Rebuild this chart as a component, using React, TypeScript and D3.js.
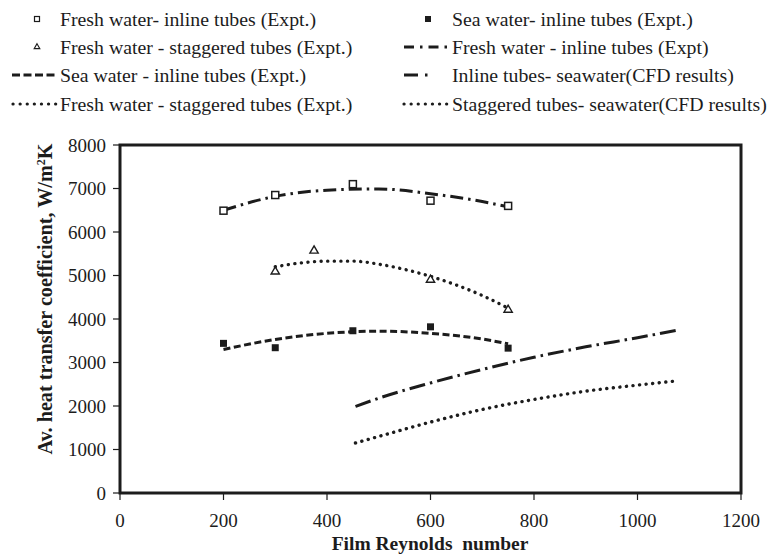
import * as d3 from "d3";

// experimental points
const freshInlineRe = [200, 300, 450, 600, 750];
const freshInlineH = [6490, 6850, 7100, 6720, 6600];
const seaInlineRe = [200, 300, 450, 600, 750];
const seaInlineH = [3440, 3340, 3730, 3820, 3330];
const freshStagRe = [300, 375, 600, 750];
const freshStagH = [5090, 5570, 4900, 4210];

// trend lines / CFD curves
const fitFreshInlineRe = [200, 300, 400, 500, 600, 700, 750];
const fitFreshInlineH = [6500, 6820, 6960, 6990, 6880, 6700, 6580];
const fitSeaInlineRe = [200, 300, 400, 500, 600, 700, 750];
const fitSeaInlineH = [3300, 3530, 3670, 3720, 3670, 3540, 3430];
const fitFreshStagRe = [300, 350, 400, 450, 500, 550, 600, 650, 700, 750];
const fitFreshStagH = [5200, 5290, 5330, 5330, 5260, 5140, 4980, 4780, 4540, 4250];
const cfdInlineRe = [455, 500, 600, 700, 800, 900, 1000, 1075];
const cfdInlineH = [1990, 2180, 2530, 2840, 3120, 3360, 3570, 3740];
const cfdStagRe = [455, 500, 600, 700, 800, 900, 1000, 1070];
const cfdStagH = [1150, 1300, 1630, 1920, 2150, 2340, 2480, 2570];

const xTicks = [0, 200, 400, 600, 800, 1000, 1200];
const yTicks = [0, 1000, 2000, 3000, 4000, 5000, 6000, 7000, 8000];

const legendLeft = [
  "Fresh water- inline tubes (Expt.)",
  "Fresh water - staggered tubes (Expt.)",
  "Sea water - inline tubes (Expt.)",
  "Fresh water - staggered tubes (Expt.)",
];
const legendRight = [
  "Sea water- inline tubes (Expt.)",
  "Fresh water - inline tubes (Expt)",
  "Inline tubes- seawater(CFD results)",
  "Staggered tubes- seawater(CFD results)",
];

const W = 771;
const H = 555;
const ink = "#1c1c1c";
const font = "'Liberation Serif', 'Times New Roman', serif";

const x = d3.scaleLinear().domain([0, 1200]).range([120, 741]);
const y = d3.scaleLinear().domain([0, 8000]).range([493, 145]);

const zip = (a: number[], b: number[]) => a.map((v, i) => [v, b[i]] as [number, number]);

const line = d3
  .line<[number, number]>()
  .x((d) => x(d[0]))
  .y((d) => y(d[1]))
  .curve(d3.curveMonotoneX);

const dashDot = "13,5,2.5,5";
const dashed = "7,3.5";
const dotted = "0.1,6.5";
const longDashDot = "16,5,2.5,5";

export default function App() {
  const rowY = [19, 47, 75, 104];
  const tri = d3.symbol(d3.symbolTriangle, 30)() as string;
  const triSmall = d3.symbol(d3.symbolTriangle, 14)() as string;

  return (
    <svg
      width={W}
      height={H}
      style={{ position: "absolute", left: 0, top: 0, background: "#fff" }}
      fontFamily={font}
    >
      {/* legend */}
      <g fontSize={19.8} fill={ink}>
        <rect x={34.5} y={rowY[0] - 2.5} width={5} height={5} fill="none" stroke={ink} strokeWidth={1.2} />
        <path d={triSmall} transform={`translate(37,${rowY[1]})`} fill="none" stroke={ink} strokeWidth={1.1} />
        <line x1={12} x2={58} y1={rowY[2]} y2={rowY[2]} stroke={ink} strokeWidth={3} strokeDasharray="8,3.5" />
        <line x1={13} x2={58} y1={rowY[3]} y2={rowY[3]} stroke={ink} strokeWidth={3.2} strokeLinecap="round" strokeDasharray="0.1,7" />
        {legendLeft.map((t, i) => (
          <text key={t + i} x={60} y={rowY[i]} dy="0.35em">
            {t}
          </text>
        ))}

        <rect x={425} y={rowY[0] - 3} width={6} height={6} fill={ink} />
        <line x1={404} x2={450} y1={rowY[1]} y2={rowY[1]} stroke={ink} strokeWidth={3} strokeDasharray="10,6,2.5,6" />
        <line x1={404} x2={438} y1={rowY[2]} y2={rowY[2]} stroke={ink} strokeWidth={3} strokeDasharray="14,7,2.5,20" />
        <line x1={404} x2={450} y1={rowY[3]} y2={rowY[3]} stroke={ink} strokeWidth={3.2} strokeLinecap="round" strokeDasharray="0.1,7" />
        {legendRight.map((t, i) => (
          <text key={t + i} x={452} y={rowY[i]} dy="0.35em">
            {t}
          </text>
        ))}
      </g>

      {/* plot box */}
      <rect x={120} y={145} width={621} height={348} fill="none" stroke={ink} strokeWidth={3} />

      {/* axes ticks */}
      <g fontSize={19} fill={ink}>
        {yTicks.map((t) => (
          <g key={"y" + t}>
            <line x1={113} x2={120} y1={y(t)} y2={y(t)} stroke={ink} strokeWidth={1.2} />
            <text x={106} y={y(t)} dy="0.35em" textAnchor="end">
              {t}
            </text>
          </g>
        ))}
        {xTicks.map((t) => (
          <g key={"x" + t}>
            <line x1={x(t)} x2={x(t)} y1={493} y2={500} stroke={ink} strokeWidth={1.2} />
            <text x={x(t)} y={520} dy="0.35em" textAnchor="middle">
              {t}
            </text>
          </g>
        ))}
      </g>

      <text x={430} y={543} dy="0.35em" textAnchor="middle" fontSize={19.5} fontWeight="bold" fill={ink}>
        Film Reynolds&#160; number
      </text>
      <text
        transform="translate(45,299) rotate(-90)"
        textAnchor="middle"
        dy="0.35em"
        fontSize={20.2}
        fontWeight="bold"
        fill={ink}
      >
        Av. heat transfer coefficient, W/m<tspan baselineShift="super" fontSize={12}>2</tspan>K
      </text>

      {/* curves */}
      <g fill="none" stroke={ink}>
        <path d={line(zip(fitFreshInlineRe, fitFreshInlineH)) as string} strokeWidth={3} strokeDasharray={dashDot} />
        <path d={line(zip(fitFreshStagRe, fitFreshStagH)) as string} strokeWidth={3.4} strokeLinecap="round" strokeDasharray={dotted} />
        <path d={line(zip(fitSeaInlineRe, fitSeaInlineH)) as string} strokeWidth={3} strokeDasharray={dashed} />
        <path d={line(zip(cfdInlineRe, cfdInlineH)) as string} strokeWidth={3} strokeDasharray={longDashDot} />
        <path d={line(zip(cfdStagRe, cfdStagH)) as string} strokeWidth={3.4} strokeLinecap="round" strokeDasharray={dotted} />
      </g>

      {/* markers */}
      <g>
        {zip(freshInlineRe, freshInlineH).map(([a, b], i) => (
          <rect key={"fi" + i} x={x(a) - 3.5} y={y(b) - 3.5} width={7} height={7} fill="#fff" stroke={ink} strokeWidth={1.5} />
        ))}
        {zip(seaInlineRe, seaInlineH).map(([a, b], i) => (
          <rect key={"si" + i} x={x(a) - 3.5} y={y(b) - 3.5} width={7} height={7} fill={ink} />
        ))}
        {zip(freshStagRe, freshStagH).map(([a, b], i) => (
          <path key={"fs" + i} d={tri} transform={`translate(${x(a)},${y(b)})`} fill="#fff" stroke={ink} strokeWidth={1.4} />
        ))}
      </g>
    </svg>
  );
}
